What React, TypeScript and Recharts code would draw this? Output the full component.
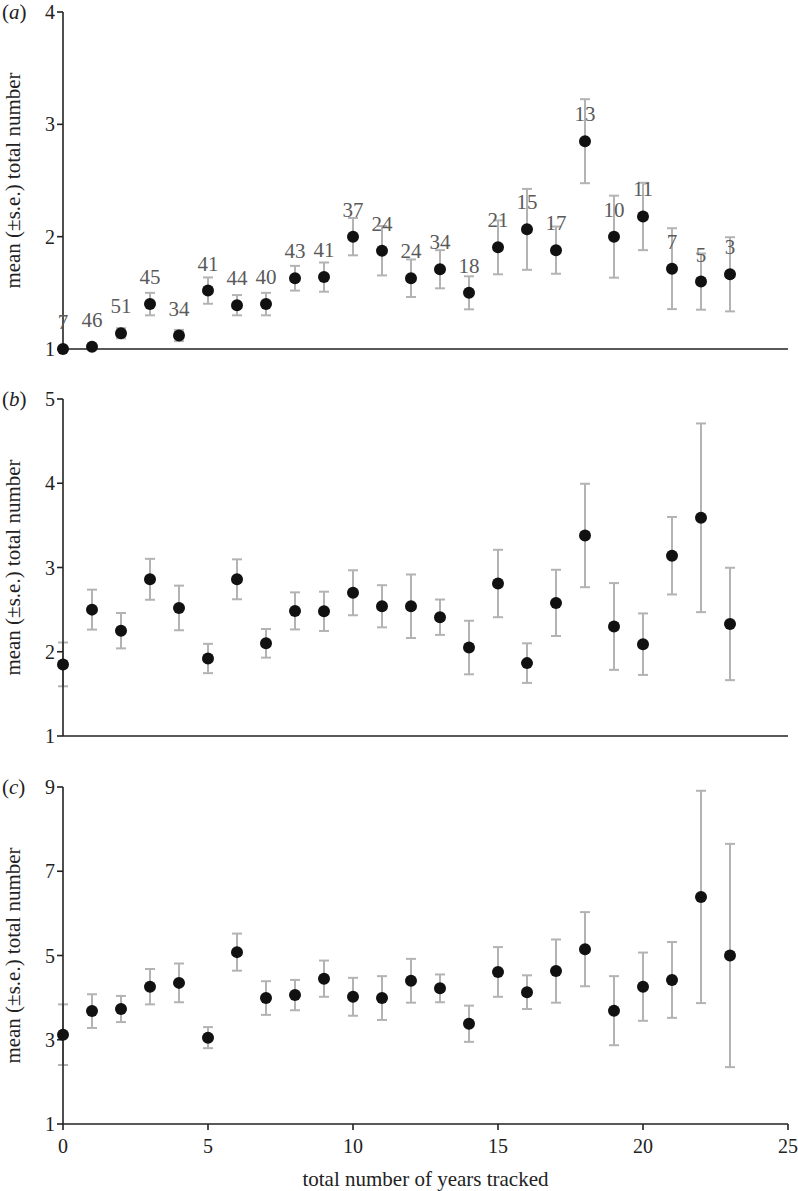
import {
  ScatterChart,
  Scatter,
  XAxis,
  YAxis,
  ErrorBar,
  Label,
} from 'recharts'

const years = [0, 1, 2, 3, 4, 5, 6, 7, 8, 9, 10, 11, 12, 13, 14, 15, 16, 17, 18, 19, 20, 21, 22, 23]
const sampleSizes = [7, 46, 51, 45, 34, 41, 44, 40, 43, 41, 37, 24, 24, 34, 18, 21, 15, 17, 13, 10, 11, 7, 5, 3]

// (a)
const meanA = [1.0, 1.02, 1.14, 1.4, 1.12, 1.52, 1.39, 1.4, 1.63, 1.64, 2.0, 1.875, 1.63, 1.71, 1.5, 1.905, 2.065, 1.88, 2.85, 2.0, 2.18, 1.715, 1.6, 1.665]
const seA = [0, 0.01, 0.045, 0.1, 0.05, 0.117, 0.09, 0.1, 0.11, 0.13, 0.166, 0.22, 0.167, 0.17, 0.147, 0.24, 0.36, 0.21, 0.374, 0.365, 0.3, 0.36, 0.25, 0.33]

// (b)
const meanB = [1.85, 2.5, 2.25, 2.86, 2.52, 1.92, 2.86, 2.1, 2.485, 2.48, 2.7, 2.54, 2.54, 2.41, 2.05, 2.81, 1.865, 2.58, 3.38, 2.3, 2.09, 3.14, 3.59, 2.33]
const seB = [0.26, 0.237, 0.21, 0.243, 0.265, 0.174, 0.237, 0.17, 0.22, 0.233, 0.267, 0.25, 0.377, 0.21, 0.318, 0.4, 0.235, 0.393, 0.614, 0.515, 0.365, 0.46, 1.12, 0.667]

// (c)
const meanC = [3.12, 3.68, 3.73, 4.26, 4.35, 3.05, 5.08, 3.99, 4.06, 4.45, 4.02, 3.99, 4.4, 4.22, 3.38, 4.61, 4.13, 4.63, 5.15, 3.69, 4.26, 4.42, 6.39, 5.0]
const seC = [0.72, 0.4, 0.31, 0.42, 0.46, 0.25, 0.44, 0.4, 0.36, 0.43, 0.45, 0.52, 0.52, 0.33, 0.43, 0.59, 0.4, 0.75, 0.88, 0.82, 0.81, 0.9, 2.52, 2.65]

const xTicks = [0, 5, 10, 15, 20, 25]
const yTicksA = [1, 2, 3, 4]
const yTicksB = [1, 2, 3, 4, 5]
const yTicksC = [1, 3, 5, 7, 9]

const FONT = '"Liberation Serif", "Times New Roman", Tinos, serif'
const INK = '#222'

const build = (means: number[], errs: number[]) =>
  years.map((x, i) => ({ x, y: means[i], err: errs[i], n: sampleSizes[i] }))

const makeShape = (showCounts: boolean) => (props: any) => {
  const { cx, cy, payload } = props
  return (
    <g>
      <circle cx={cx} cy={cy} r={6} fill="#111" />
      {showCounts && (
        <text
          x={cx}
          y={cy - 20}
          textAnchor="middle"
          fontSize={21}
          fontFamily={FONT}
          fill="#5a5a5a"
        >
          {payload.n}
        </text>
      )}
    </g>
  )
}

interface PanelProps {
  top: number
  height: number
  xAxisHeight: number
  data: Array<Record<string, number>>
  yMax: number
  yTicks: number[]
  letter: string
  showCounts?: boolean
  bottomAxis?: boolean
}

function Panel({ top, height, xAxisHeight, data, yMax, yTicks, letter, showCounts = false, bottomAxis = false }: PanelProps) {
  return (
    <div style={{ position: 'absolute', left: 0, top }}>
      <ScatterChart
        width={798}
        height={height}
        margin={{ top: 12, right: 10, bottom: 0, left: 0 }}
        style={{ fontFamily: FONT }}
      >
        <XAxis
          type="number"
          dataKey="x"
          domain={[0, 25]}
          ticks={xTicks}
          interval={0}
          height={xAxisHeight}
          axisLine={{ stroke: INK, strokeWidth: 1.6 }}
          tick={bottomAxis ? { fontSize: 20, fill: INK, fontFamily: FONT } : false}
          tickLine={bottomAxis ? { stroke: INK, strokeWidth: 1.6 } : false}
          tickSize={6}
          tickMargin={9}
        >
          {bottomAxis && (
            <Label
              content={({ viewBox }: any) => (
                <text
                  x={viewBox.x + viewBox.width / 2}
                  y={viewBox.y + viewBox.height - 5}
                  textAnchor="middle"
                  fontSize={21}
                  fontFamily={FONT}
                  fill={INK}
                >
                  total number of years tracked
                </text>
              )}
            />
          )}
        </XAxis>
        <YAxis
          type="number"
          dataKey="y"
          domain={[1, yMax]}
          ticks={yTicks}
          interval={0}
          width={63}
          axisLine={{ stroke: INK, strokeWidth: 1.6 }}
          tickLine={{ stroke: INK, strokeWidth: 1.6 }}
          tick={{ fontSize: 20, fill: INK, fontFamily: FONT }}
          tickSize={6}
          tickMargin={2}
        >
          <Label
            content={({ viewBox }: any) => {
              const cy = viewBox.y + viewBox.height / 2
              return (
                <text
                  x={20}
                  y={cy}
                  transform={`rotate(-90, 20, ${cy})`}
                  textAnchor="middle"
                  fontSize={21}
                  fontFamily={FONT}
                  fill={INK}
                >
                  mean (±s.e.) total number
                </text>
              )
            }}
          />
          <Label
            content={({ viewBox }: any) => (
              <text x={2} y={viewBox.y + 7} fontSize={21} fontFamily={FONT} fill={INK}>
                (<tspan fontStyle="italic">{letter}</tspan>)
              </text>
            )}
          />
        </YAxis>
        <Scatter data={data} shape={makeShape(showCounts)} isAnimationActive={false}>
          <ErrorBar
            dataKey="err"
            direction="y"
            width={5}
            stroke="#b3b3b3"
            strokeWidth={2}
            isAnimationActive={false}
          />
        </Scatter>
      </ScatterChart>
    </div>
  )
}

export default function App() {
  return (
    <div style={{ position: 'absolute', left: 0, top: 0, width: 798, height: 1191, background: '#fff' }}>
      <Panel top={0} height={360} xAxisHeight={11} data={build(meanA, seA)} yMax={4} yTicks={yTicksA} letter="a" showCounts />
      <Panel top={387} height={360} xAxisHeight={11} data={build(meanB, seB)} yMax={5} yTicks={yTicksB} letter="b" />
      <Panel top={775} height={416} xAxisHeight={67} data={build(meanC, seC)} yMax={9} yTicks={yTicksC} letter="c" bottomAxis />
    </div>
  )
}
